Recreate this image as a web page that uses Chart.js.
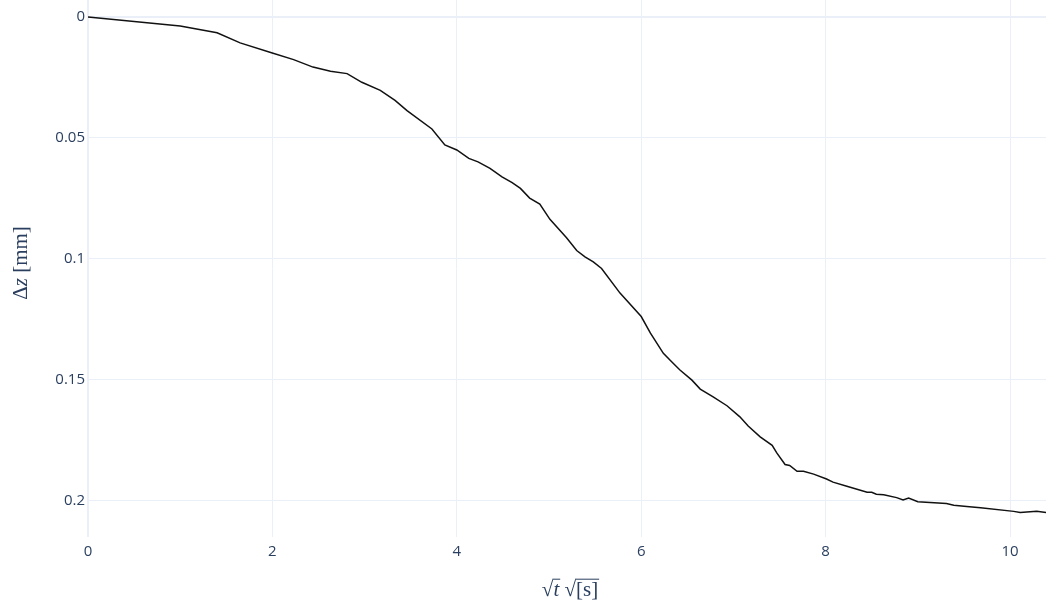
<!DOCTYPE html>
<html>
<head>
<meta charset="utf-8">
<script src="https://cdn.jsdelivr.net/npm/chart.js@4"></script>
<style>
  html, body { margin: 0; padding: 0; background: #fff; }
  #wrap { width: 1046px; height: 605px; }
</style>
</head>
<body>
<div id="wrap"><canvas id="chart" width="1046" height="605"></canvas></div>
<script>
// sqrt(t) [sqrt(s)] and settlement dz [mm]
const sqrtT = [0, 1.0, 1.4, 1.65, 1.99, 2.23, 2.44, 2.63, 2.81, 2.97, 3.17, 3.33, 3.46, 3.73, 3.87,
  4.0, 4.13, 4.23, 4.36, 4.49, 4.6, 4.69, 4.79, 4.9, 5.01, 5.19, 5.3, 5.39, 5.48, 5.57, 5.77,
  6.0, 6.1, 6.24, 6.33, 6.42, 6.55, 6.64, 6.78, 6.93, 7.07, 7.16, 7.29, 7.42, 7.47, 7.56, 7.61,
  7.69, 7.76, 7.87, 8.01, 8.08, 8.23, 8.45, 8.5, 8.55, 8.63, 8.77, 8.84, 8.9, 9.0, 9.31, 9.39,
  9.53, 9.68, 10.04, 10.11, 10.29, 10.39]
const dz = [0, 0.0037, 0.0065, 0.0107, 0.0148, 0.0176, 0.0207, 0.0224, 0.0234, 0.027, 0.0303, 0.0345, 0.0387, 0.0463, 0.0529,
  0.055, 0.0585, 0.0599, 0.0626, 0.0661, 0.0685, 0.0709, 0.0749, 0.0774, 0.0837, 0.0913, 0.0966, 0.0992, 0.1013, 0.104, 0.1142,
  0.1239, 0.1308, 0.1391, 0.1426, 0.146, 0.1502, 0.1539, 0.1571, 0.1608, 0.1654, 0.1692, 0.1737, 0.1772, 0.1803, 0.1851, 0.1855,
  0.1879, 0.1879, 0.1891, 0.1911, 0.1924, 0.1941, 0.1966, 0.1966, 0.1974, 0.1976, 0.1988, 0.1998, 0.199, 0.2005, 0.2012, 0.202,
  0.2025, 0.203, 0.2045, 0.205, 0.2045, 0.205]

const xTicks = [0, 2, 4, 6, 8, 10]
const yTicks = [0, 0.05, 0.1, 0.15, 0.2]

const gridColor = '#ebf0f8'
const textColor = '#2a3f5f'
const serif = '"Liberation Serif", "DejaVu Serif", serif'

// draws the two math-style axis titles (mixed upright / italic)
const mathTitles = {
  id: 'mathTitles',
  afterDraw(chart) {
    const ctx = chart.ctx
    const drawRun = (parts, cx, cy) => {
      let w = 0
      parts.forEach((p) => { ctx.font = p.font; w += ctx.measureText(p.text).width })
      let x = cx - w / 2
      const marks = []
      parts.forEach((p) => {
        ctx.font = p.font
        ctx.fillText(p.text, x, cy)
        const pw = ctx.measureText(p.text).width
        if (p.bar) marks.push([x, x + pw])
        x += pw
      })
      return marks
    }
    ctx.save()
    ctx.fillStyle = textColor
    ctx.strokeStyle = textColor
    ctx.textBaseline = 'alphabetic'
    ctx.textAlign = 'left'

    // y title
    const ys = 21
    ctx.save()
    ctx.translate(27, 263)
    ctx.rotate(-Math.PI / 2)
    drawRun([
      { text: 'Δ', font: ys + 'px ' + serif },
      { text: 'z', font: 'italic ' + ys + 'px ' + serif },
      { text: ' [mm]', font: ys + 'px ' + serif },
    ], 0, 0)
    ctx.restore()

    // x title
    const xs = 21
    const base = 596
    const bars = drawRun([
      { text: '√', font: xs + 'px ' + serif },
      { text: 't', font: 'italic ' + xs + 'px ' + serif, bar: true },
      { text: ' ', font: xs + 'px ' + serif },
      { text: '√', font: xs + 'px ' + serif },
      { text: '[s]', font: xs + 'px ' + serif, bar: true },
    ], 570, base)
    ctx.lineWidth = 1
    bars.forEach(([a, b]) => {
      ctx.beginPath()
      ctx.moveTo(a - 1, base - xs * 0.8)
      ctx.lineTo(b + 1, base - xs * 0.8)
      ctx.stroke()
    })
    ctx.restore()
  },
}

new Chart(document.getElementById('chart'), {
  type: 'line',
  data: {
    datasets: [{
      data: sqrtT.map((t, i) => ({ x: t, y: dz[i] })),
      borderColor: '#111111',
      borderWidth: 1.5,
      pointRadius: 0,
      tension: 0,
      fill: false,
    }],
  },
  options: {
    responsive: false,
    animation: false,
    devicePixelRatio: 1,
    layout: { padding: 0 },
    plugins: {
      legend: { display: false },
      tooltip: { enabled: false },
    },
    scales: {
      x: {
        type: 'linear',
        min: 0,
        max: 10.39,
        afterBuildTicks: (scale) => { scale.ticks = xTicks.map((v) => ({ value: v })) },
        afterFit: (scale) => {
          scale.height = 68
          scale.paddingLeft = 0
          scale.paddingRight = 0
        },
        border: { display: false },
        grid: {
          color: gridColor,
          lineWidth: (c) => (c.tick && c.tick.value === 0 ? 2 : 1),
          drawTicks: false,
        },
        ticks: {
          padding: 6,
          color: textColor,
          font: { family: '"Open Sans", sans-serif', size: 15 },
          maxRotation: 0,
        },
      },
      y: {
        type: 'linear',
        reverse: true,
        min: -0.00705,
        max: 0.2151,
        afterBuildTicks: (scale) => { scale.ticks = yTicks.map((v) => ({ value: v })) },
        afterFit: (scale) => {
          scale.width = 88
          scale.paddingTop = 0
          scale.paddingBottom = 0
        },
        border: { display: false },
        grid: {
          color: gridColor,
          lineWidth: (c) => (c.tick && c.tick.value === 0 ? 2 : 1),
          drawTicks: false,
        },
        ticks: {
          padding: 3,
          color: textColor,
          font: { family: '"Open Sans", sans-serif', size: 15 },
          callback: (v) => String(v),
        },
      },
    },
  },
  plugins: [mathTitles],
})
</script>
</body>
</html>
